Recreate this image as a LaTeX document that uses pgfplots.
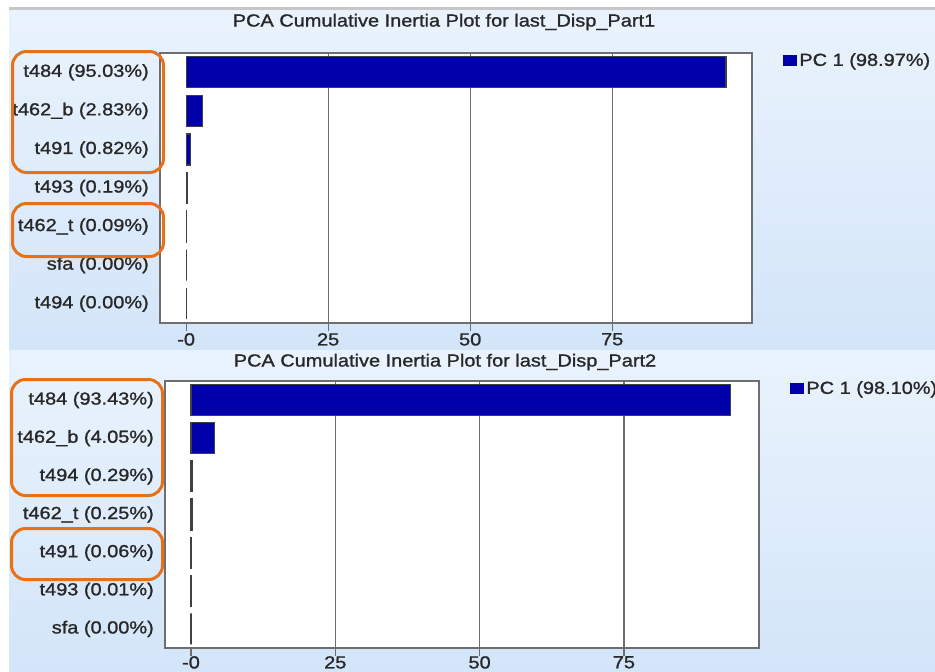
\documentclass[border=0pt]{standalone}
\usepackage{fontspec}
\setmainfont{Liberation Sans}[FakeStretch=1.14, FakeBold=1.2]
\usepackage{pgfplots}
\pgfplotsset{compat=1.18}

\definecolor{barblue}{RGB}{0,0,170}
\definecolor{bgtop}{RGB}{234,243,253}
\definecolor{bgbot}{RGB}{211,229,249}
\definecolor{txt}{RGB}{40,40,40}
\definecolor{frame}{RGB}{110,110,110}
\definecolor{hl}{RGB}{232,113,24}

\pgfplotsset{
  inertia/.style={
    anchor=north west,
    scale only axis,
    xbar,
    bar width=31bp,
    y dir=reverse,
    ymin=-0.5, ymax=6.5,
    ytick={0,...,6},
    ytick style={draw=none},
    xtick={25,50,75},
    xticklabels={25,50,75},
    extra x ticks={0},
    extra x tick labels={-0},
    extra x tick style={grid=none},
    xtick pos=left,
    tick align=outside,
    major tick length=8bp,
    xmajorgrids,
    grid style={frame, line width=1.2bp},
    x tick style={frame, line width=1.2bp},
    axis line style={frame, line width=1.5bp},
    axis background/.style={fill=white},
    every tick label/.append style={font=\fontsize{17.5bp}{20bp}\selectfont, text=txt},
    /pgf/number format/assume math mode=true,
    yticklabel style={anchor=east, inner sep=0pt, xshift=-3bp},
    xticklabel style={inner sep=0pt, yshift=-2bp},
    legend style={at={(1,1)}, anchor=north west, xshift=31bp, yshift=2bp,
      draw=none, fill=none, inner sep=0pt,
      font=\fontsize{17.5bp}{20bp}\selectfont, text=txt,
      /tikz/every even column/.append style={column sep=5bp}},
    legend image code/.code={\fill[barblue] (0bp,-5bp) rectangle (13bp,5bp);},
  }
}

\begin{document}
\begin{tikzpicture}
\useasboundingbox (0,0) rectangle (935bp,-672bp);
\clip (0,0) rectangle (935bp,-672bp);
\fill[white] (0,0) rectangle (935bp,-672bp);
% panel backgrounds
\shade[top color=bgtop, bottom color=bgbot] (9bp,-9bp) rectangle (935bp,-350bp);
\shade[top color=bgtop, bottom color=bgbot] (9bp,-350bp) rectangle (935bp,-672bp);
\fill[black!22] (9bp,-7bp) rectangle (935bp,-10bp);

% titles
\node[text=txt, font=\fontsize{17.5bp}{20bp}\selectfont] at (444bp,-22bp)
  {PCA Cumulative Inertia Plot for last\_Disp\_Part1};
\node[text=txt, font=\fontsize{17.5bp}{20bp}\selectfont] at (445bp,-362bp)
  {PCA Cumulative Inertia Plot for last\_Disp\_Part2};

% first set
\begin{axis}[inertia,
  at={(160bp,-53bp)}, width=592bp, height=270bp,
  xmin=-4.6, xmax=99.6,
  yticklabels={t484 (95.03\%), t462\_b (2.83\%), t491 (0.82\%), t493 (0.19\%),
               t462\_t (0.09\%), sfa (0.00\%), t494 (0.00\%)}]
\addplot[fill=barblue, draw=black!75, line width=1.2bp] coordinates {
  (95.03,0) (2.83,1) (0.82,2) (0.19,3) (0.09,4) (0.00,5) (0.00,6)};
\addlegendentry{PC 1 (98.97\%)}
\end{axis}

% second set: tick labels sit a little higher near the lower edge
\begin{axis}[inertia,
  at={(165bp,-381bp)}, width=594bp, height=267bp,
  xmin=-4.5, xmax=98.4,
  xticklabel style={yshift=2bp},
  yticklabels={t484 (93.43\%), t462\_b (4.05\%), t494 (0.29\%), t462\_t (0.25\%),
               t491 (0.06\%), t493 (0.01\%), sfa (0.00\%)}]
\addplot[fill=barblue, draw=black!75, line width=1.2bp] coordinates {
  (93.43,0) (4.05,1) (0.29,2) (0.25,3) (0.06,4) (0.01,5) (0.00,6)};
\addlegendentry{PC 1 (98.10\%)}
\end{axis}

% highlight frames around selected labels
\begin{scope}[draw=hl, line width=3bp, rounded corners=14bp]
  \draw (12.5bp,-51.5bp) rectangle (163.5bp,-172.5bp);
  \draw (12.5bp,-203.5bp) rectangle (163.5bp,-256.5bp);
  \draw (11.5bp,-379.5bp) rectangle (162.5bp,-495.5bp);
  \draw (11.5bp,-528.5bp) rectangle (162.5bp,-579.5bp);
\end{scope}
\end{tikzpicture}
\end{document}
